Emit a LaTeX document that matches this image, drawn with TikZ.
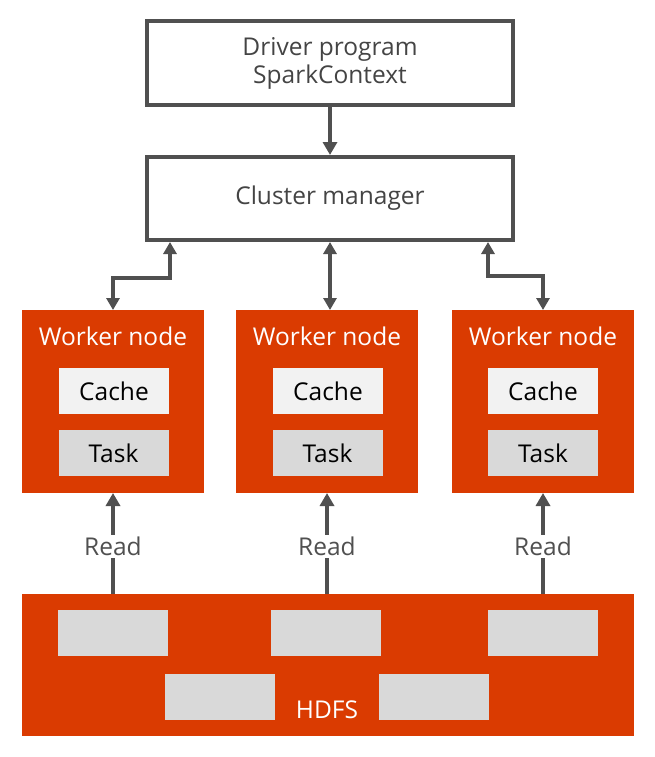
\documentclass[tikz,border=0pt]{standalone}
\usepackage{fontspec}
\setmainfont{Open Sans}
\usetikzlibrary{arrows.meta}
\definecolor{orng}{HTML}{DA3B01}
\definecolor{lgray}{HTML}{F2F2F2}
\definecolor{mgray}{HTML}{D9D9D9}
\definecolor{dgray}{HTML}{505050}
\tikzset{
	box/.style={draw=dgray, line width=4pt, minimum width=366pt, text=dgray!85!black, align=center},
	worker/.style={fill=orng, minimum width=182pt, minimum height=183pt, outer sep=0pt},
	cell/.style={minimum width=110pt, minimum height=46pt, text=black},
	link/.style={draw=dgray, line width=4pt, {Triangle[width=13pt,length=12pt]}-{Triangle[width=13pt,length=12pt]}},
	read/.style={draw=dgray, line width=4pt, -{Triangle[width=14pt,length=13pt]}}
}
\begin{document}
\begin{tikzpicture}[x=1pt, y=-1pt, font=\fontsize{24.5}{28}\selectfont]
		\useasboundingbox (0,0) rectangle (654,757);

		\node[box, minimum height=84pt] (DP) at (330, 63) {Driver program\\SparkContext};
		\node[box, minimum height=83pt] (CM) at (330, 198.5) {Cluster manager};

		\node[worker] (W1) at (113, 401.5) {};
		\node[worker] (W2) at (327, 401.5) {};
		\node[worker] (W3) at (543, 401.5) {};

		\node[text=white] (N1) at (113, 336) {Worker node};
		\node[text=white] (N2) at (327, 336) {Worker node};
		\node[text=white] (N3) at (543, 336) {Worker node};

		\node[cell, fill=lgray] (C1) at (114, 391) {Cache};
		\node[cell, fill=lgray] (C2) at (328, 391) {Cache};
		\node[cell, fill=lgray] (C3) at (543, 391) {Cache};
		\node[cell, fill=mgray] (T1) at (113.5, 453) {Task};
		\node[cell, fill=mgray] (T2) at (327.5, 453) {Task};
		\node[cell, fill=mgray] (T3) at (543, 453) {Task};

		\node[fill=orng, minimum width=612pt, minimum height=142pt, outer sep=0pt] (H) at (328, 665) {};
		\node[cell, fill=mgray] (B1) at (112.5, 633) {};
		\node[cell, fill=mgray] (B2) at (325.5, 633) {};
		\node[cell, fill=mgray] (B3) at (543, 633) {};
		\node[cell, fill=mgray] (B4) at (220, 697) {};
		\node[cell, fill=mgray] (B5) at (434, 697) {};
		\node[text=white] (HL) at (327, 710) {HDFS};

		\draw[read] (DP.south) -- (CM.north);

		\draw[link] ([xshift=-160pt]CM.south) -- ++(0, 36) -| (W1.north);
		\draw[link] (CM.south) -- (CM.south |- W2.north);
		\draw[link] ([xshift=158pt]CM.south) -- ++(0, 34) -| (W3.north);

		\draw[read] (H.north -| W1) -- node[fill=white, text=dgray, inner sep=2pt, pos=0.47] {Read} (W1.south);
		\draw[read] (H.north -| W2) -- node[fill=white, text=dgray, inner sep=2pt, pos=0.47] {Read} (W2.south);
		\draw[read] (H.north -| W3) -- node[fill=white, text=dgray, inner sep=2pt, pos=0.47] {Read} (W3.south);
	\end{tikzpicture}
\end{document}
